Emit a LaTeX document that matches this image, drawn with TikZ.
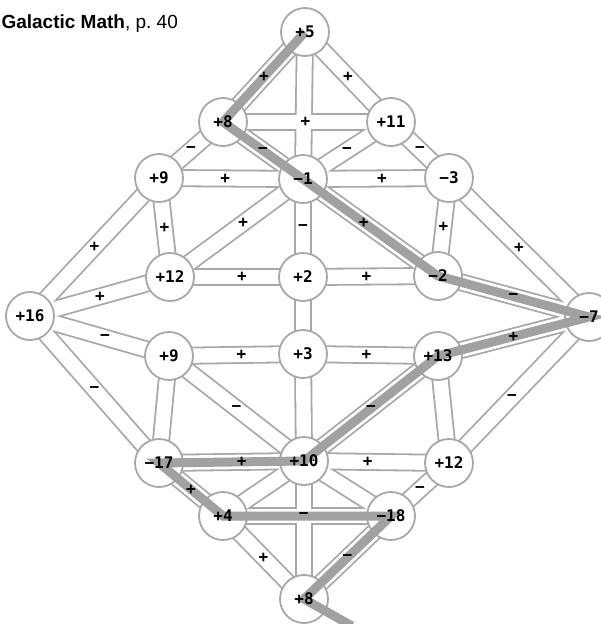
\documentclass[tikz,border=0pt]{standalone}
\usepackage{fontspec}
\setmainfont{Liberation Sans}
\setmonofont{DejaVu Sans Mono}
\definecolor{EdgeClr}{rgb}{0.66,0.66,0.67}
\definecolor{TrailClr}{rgb}{0.63,0.63,0.63}
\pgfdeclarelayer{back}
\pgfsetlayers{back,main}

\begin{document}
\begin{tikzpicture}[x=1pt,y=-1pt,
  vtx/.style={circle,draw=EdgeClr,line width=1.8pt,fill=white,minimum size=48pt,inner sep=0pt},
  num/.style={font=\fontsize{16}{16}\selectfont\ttfamily\bfseries},
  sgn/.style={font=\fontsize{16}{16}\selectfont\ttfamily\bfseries,text=black,inner sep=0pt},
  rimline/.style={line width=18pt,EdgeClr},
  laneline/.style={line width=14.4pt,white},
  trail/.style={line width=9pt,TrailClr}]
\useasboundingbox (0,0) rectangle (601,624);

\def\vertices{a/305/32/+5, b/223/122/+8, c/391/122/+11, d/159/178/+9, e/303/179/−1,
  f/449/178/−3, g/170/277/+12, h/303/277/+2, i/438/276/−2, j/30/316/+16, k/589/317/−7,
  l/169/356/+9, m/303/354/+3, n/438/356/+13, o/159/463/−17, p/304/461/+10,
  q/449/463/+12, r/223/516/+4, s/391/516/−18, t/304/599/+8}
\def\edges{a/e/{}/.5, t/p/{}/.5, a/b/+/.5, a/c/+/.5, b/c/+/.49, b/d/−/.5, b/e/−/.5,
  c/e/−/.5, c/f/−/.5, d/e/+/.46, e/f/+/.54, d/j/+/.5, d/g/+/.5, e/g/+/.45, e/h/−/.5,
  e/i/+/.45, f/i/+/.5, f/k/+/.5, g/j/+/.5, g/h/+/.54, h/i/+/.47, i/k/−/.5, h/m/{}/.5,
  m/p/{}/.5, j/l/−/.54, j/o/−/.5, l/m/+/.54, m/n/+/.47, n/k/+/.5, l/p/−/.5, n/p/−/.5,
  k/q/−/.55, l/o/{}/.5, n/q/{}/.5, o/p/+/.57, p/q/+/.44, o/r/+/.5, p/r/{}/.5,
  p/s/{}/.5, q/s/−/.5, r/s/−/.48, r/t/+/.5, s/t/−/.5}

\node[anchor=base west,font=\fontsize{19}{19}\selectfont] (title) at (-2,28) {\textbf{Galactic Math}, p.~40};

\foreach \nm/\x/\y/\txt in \vertices
  \node[vtx] (\nm) at (\x,\y) {};

\begin{pgfonlayer}{back}
\foreach \va/\vb/\sg/\ps in \edges
  \draw[rimline] (\va.center) -- (\vb.center);
\foreach \va/\vb/\sg/\ps in \edges
  \draw[laneline] (\va.center) -- (\vb.center);
\end{pgfonlayer}

\coordinate (tail) at (352,626);
\draw[trail] (a.center) -- (b.center) -- (e.center) -- (i.center) -- (k.center)
  -- (n.center) -- (p.center) -- (o.center) -- (r.center) -- (s.center)
  -- (t.center) -- (tail);

\foreach \va/\vb/\sg/\ps in \edges
  \path (\va.center) -- (\vb.center) node[sgn,pos=\ps] {\sg};

\foreach \nm/\x/\y/\txt in \vertices
  \node[num] at (\nm) {\txt};

\end{tikzpicture}
\end{document}
